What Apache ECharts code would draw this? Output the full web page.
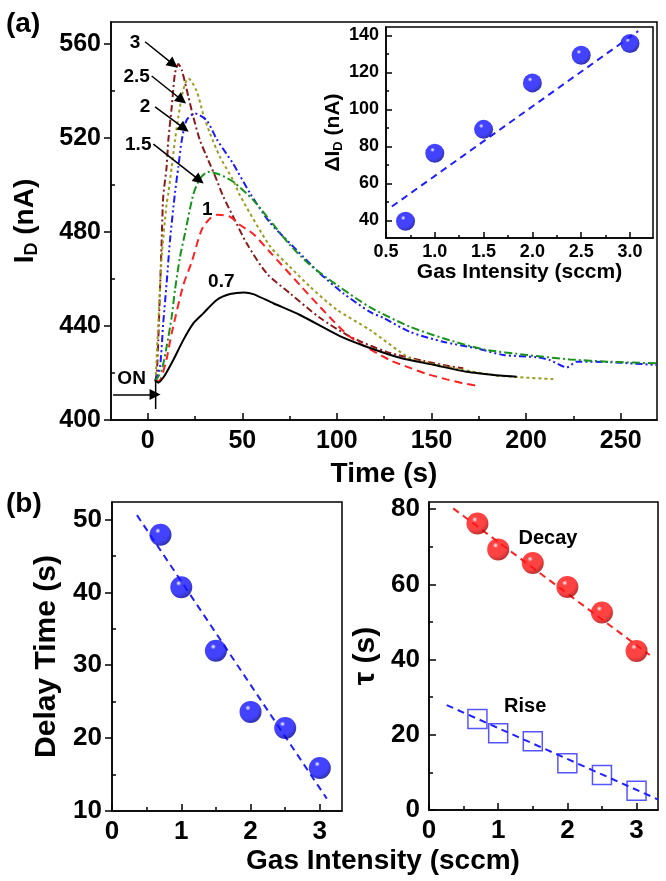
<!DOCTYPE html>
<html><head><meta charset="utf-8">
<script src="https://cdn.jsdelivr.net/npm/echarts@6/dist/echarts.min.js"></script>
<style>html,body{margin:0;padding:0;background:#fff}#c{width:666px;height:881px}</style>
</head><body><div id="c"></div>
<script>
// ---------- Panel (a): transient curves ----------
const t07 = [4, 5.6, 9.1, 13.5, 18.8, 24.1, 29.4, 36.5, 43.5, 51, 55.8, 66.4, 80.5, 101.6, 115.7, 133.3, 151, 168.6, 186.2, 195];
const i07 = [416.8, 415.9, 419.1, 425.5, 434.0, 441.1, 445.4, 451.1, 453.6, 454.3, 453.6, 449.7, 444.7, 435.7, 431.2, 426.5, 423.5, 420.5, 418.9, 418.4];
const t1 = [4, 6.5, 8, 10, 12.7, 18.8, 23.3, 28.5, 32.9, 37, 43.5, 48.8, 55.8, 64.6, 80.5, 91, 106.9, 128, 138.6, 147.5, 158, 166.8, 174.7];
const i1 = [416.5, 417, 420, 426, 437, 457.4, 467.4, 480.9, 485.8, 487.4, 486.5, 483, 479.2, 471.5, 457.4, 448.2, 435.4, 425.5, 422.2, 419.6, 417.3, 415.6, 414.5];
const t15 = [4, 7.4, 10, 12.7, 14.4, 17.1, 19.7, 24.1, 27.7, 32, 38, 45.2, 55.8, 64.6, 75.2, 85.8, 99.9, 117.5, 138.6, 156.2, 177.4, 200.3, 223.2, 244.4, 270];
const i15 = [416.5, 421.3, 431.2, 444, 455.3, 469.5, 479.4, 496, 502.8, 505.6, 504.5, 501.4, 493.6, 485, 474.5, 466, 457.5, 448, 439.7, 434.8, 430.1, 427.7, 425.8, 424.8, 424.1];
const t2 = [4, 6.5, 8.2, 10, 11.8, 14.4, 16.2, 18, 20.6, 25, 31.2, 36.5, 45.2, 54.1, 64.6, 73.5, 82.2, 91, 103.4, 117.5, 124.5, 138.6, 156.2, 173.9, 188, 205.6, 212.6, 221.5, 226.7, 244.4, 269];
const i2 = [416.5, 422.7, 441.1, 458.2, 476.6, 496.5, 507.8, 519, 527.7, 530.5, 527.5, 519.5, 509, 496.5, 484, 476.6, 469.5, 462.4, 453.9, 446, 443.5, 437.5, 433.3, 430.5, 427.7, 426.7, 425.5, 422.4, 424.8, 424.6, 423.4];
const t25 = [4, 4.4, 5.6, 7.4, 10, 10.9, 12.7, 14.4, 16.2, 18, 19.7, 21.5, 25.9, 29.4, 32.9, 38.2, 45.2, 48.8, 64.6, 75.2, 85.8, 99.9, 117.5, 138.6, 149.2, 165, 182.7, 196.8, 214.4];
const i25 = [416.5, 421, 441.1, 469.5, 492, 496.5, 507.8, 519, 529, 537.6, 543, 545.4, 540, 530, 522, 512, 502, 495.5, 474, 465.2, 456.7, 447, 438.3, 426.3, 424.1, 421.6, 419.1, 418.2, 417.4];
const t3 = [4, 4.8, 5.6, 6.5, 7.4, 8.2, 10, 10.9, 12.7, 14.4, 16.2, 18, 21.5, 24.1, 27.6, 32, 36.5, 40, 45.2, 52.3, 62.9, 75.2, 91, 107, 126.3, 145.7, 156.2, 166.8];
const i3 = [416.5, 420, 434, 455.3, 476.6, 495, 507.8, 519.1, 533.3, 547.5, 551.5, 549, 537.6, 529, 519.1, 510.6, 502.1, 495, 486.5, 475.2, 462.4, 453.9, 443.5, 435.5, 429, 425.2, 423.4, 422];

const curveLabels = ['3', '2.5', '2', '1.5', '1', '0.7'];
const curveLabelT = [-6.7, -5.8, -1.4, -5, 31.5, 38.9];
const curveLabelI = [560.4, 546, 533.3, 517.3, 489.5, 458.8];
const arrowFromT = [-1.4, 2.1, 3.9, 3];
const arrowFromI = [561, 546.4, 533.3, 517.4];
const arrowToT = [13.5, 18, 19.3, 27.3];
const arrowToI = [551.4, 536.2, 524.1, 502.1];
const onText = ['ON', -8.5, 417.6];
const onArrow = [[-18.3, 410.9], [3.9, 410.9]];
const onBar = [[4.2, 416.3], [4.2, 404.7]];

const mainXTicks = [0, 50, 100, 150, 200, 250];
const mainXMinor = [25, 75, 125, 175, 225];
const mainYTicks = [400, 440, 480, 520, 560];
const mainYMinor = [420, 460, 500, 540];

// ---------- Inset ----------
const insetGas = [0.7, 1.0, 1.5, 2.0, 2.5, 3.0];
const insetDeltaI = [39.5, 76.3, 89.2, 114.3, 129.2, 135.6];
const insetFitX = [0.56, 3.085];
const insetFitY = [47.5, 142.3];
const insetXTicks = [0.5, 1.0, 1.5, 2.0, 2.5, 3.0];
const insetXMinor = [0.75, 1.25, 1.75, 2.25, 2.75];
const insetYTicks = [40, 60, 80, 100, 120, 140];
const insetYMinor = [50, 70, 90, 110, 130];

// ---------- Panel (b) ----------
const gasB = [0.7, 1.0, 1.5, 2.0, 2.5, 3.0];
const delayTime = [47.9, 40.7, 32.0, 23.6, 21.4, 15.9];
const delayFitX = [0.36, 3.10];
const delayFitY = [50.6, 11.7];
const decayTau = [76.2, 69.3, 65.7, 59.3, 52.5, 42.3];
const decayFitX = [0.35, 3.19];
const decayFitY = [80.2, 41.2];
const riseTau = [24.2, 20.4, 18.3, 12.4, 9.3, 5.1];
const riseFitX = [0.256, 3.31];
const riseFitY = [27.9, 2.8];
const bXTicks = [0, 1, 2, 3];
const bXMinor = [0.5, 1.5, 2.5];
const delayYTicks = [10, 20, 30, 40, 50];
const delayYMinor = [15, 25, 35, 45];
const tauYTicks = [0, 20, 40, 60, 80];
const tauYMinor = [10, 30, 50, 70];
const decayLabel = ['Decay', 1.72, 72.3];
const riseLabel = ['Rise', 1.39, 27.6];

// ---------- helpers ----------
const FF = '"Liberation Sans", Arial, sans-serif';
const zip = (a, b) => a.map((v, k) => [v, b[k]]);

function axisPair(gridIndex, position, min, max, majors, minors, o) {
  const major = {
    type: 'value', gridIndex, position, min, max,
    axisLine: { show: true, onZero: false, lineStyle: { color: '#000', width: 1.5 } },
    axisTick: { show: true, inside: o.majorInside, length: o.majorLen || 7, customValues: majors, lineStyle: { color: '#000', width: 1.5 } },
    axisLabel: { show: true, customValues: majors, margin: o.margin, fontSize: o.fontSize, fontWeight: 'bold', color: '#000', fontFamily: FF, formatter: o.formatter },
    splitLine: { show: false },
    name: o.name || '', nameLocation: 'middle', nameGap: o.nameGap || 30, nameRotate: o.nameRotate,
    nameTextStyle: o.nameTextStyle || {}
  };
  const minor = {
    type: 'value', gridIndex, position, min, max,
    axisLine: { show: false, onZero: false },
    axisTick: { show: true, inside: o.minorInside, length: o.minorLen || 4, customValues: minors, lineStyle: { color: '#000', width: 1.5 } },
    axisLabel: { show: false },
    splitLine: { show: false }
  };
  return [major, minor];
}

function sphere(base, dark) {
  return { type: 'radial', x: 0.38, y: 0.32, r: 0.68, colorStops: [
    { offset: 0, color: '#ffffff' }, { offset: 0.18, color: base }, { offset: 0.7, color: base }, { offset: 1, color: dark }] };
}

const bigName = (fs) => ({ fontSize: fs, fontWeight: 'bold', color: '#000', fontFamily: FF });

const xAxes = [
  ...axisPair(0, 'bottom', -19.4, 269.2, mainXTicks, mainXMinor, { majorInside: true, minorInside: true, margin: 9, fontSize: 25, name: 'Time (s)', nameGap: 40, nameTextStyle: bigName(28) }),
  ...axisPair(1, 'bottom', 0.5, 3.236, insetXTicks, insetXMinor, { majorInside: true, minorInside: true, majorLen: 6, minorLen: 3, margin: 5, fontSize: 18, formatter: v => Number(v).toFixed(1), name: 'Gas Intensity (sccm)', nameGap: 24, nameTextStyle: bigName(21) }),
  ...axisPair(2, 'bottom', 0, 3.32, bXTicks, bXMinor, { majorInside: true, minorInside: true, margin: 8, fontSize: 26 }),
  ...axisPair(3, 'bottom', 0, 3.31, bXTicks, bXMinor, { majorInside: true, minorInside: true, margin: 8, fontSize: 26 })
];
const yAxes = [
  ...axisPair(0, 'left', 400, 569.4, mainYTicks, mainYMinor, { majorInside: false, minorInside: true, margin: 10, fontSize: 25, nameRotate: 90, nameGap: 70,
    name: '{m|I}{s|D}{m| (nA)}',
    nameTextStyle: { rich: { m: { fontSize: 28, fontWeight: 'bold', fontFamily: FF, color: '#000', lineHeight: 32 }, s: { fontSize: 18, fontWeight: 'bold', fontFamily: FF, color: '#000', lineHeight: 10, verticalAlign: 'bottom' } } } }),
  ...axisPair(1, 'left', 30.5, 144.5, insetYTicks, insetYMinor, { majorInside: true, minorInside: true, majorLen: 6, minorLen: 3, margin: 7, fontSize: 18, nameRotate: 90, nameGap: 36,
    name: '{m|ΔI}{s|D}{m| (nA)}',
    nameTextStyle: { rich: { m: { fontSize: 21, fontWeight: 'bold', fontFamily: FF, color: '#000', lineHeight: 24 }, s: { fontSize: 13, fontWeight: 'bold', fontFamily: FF, color: '#000', lineHeight: 8, verticalAlign: 'bottom' } } } }),
  ...axisPair(2, 'left', 10, 52.4, delayYTicks, delayYMinor, { majorInside: false, minorInside: true, margin: 10, fontSize: 26, nameRotate: 90, nameGap: 50, name: 'Delay Time (s)', nameTextStyle: bigName(30) }),
  ...axisPair(3, 'left', 0, 81.9, tauYTicks, tauYMinor, { majorInside: true, minorInside: true, margin: 9, fontSize: 26, nameRotate: 90, nameGap: 48, name: 'τ (s)', nameTextStyle: bigName(30) })
];

function curve(name, t, I, color, dash, width) {
  return { type: 'line', name, xAxisIndex: 0, yAxisIndex: 0, data: zip(t, I), showSymbol: false, symbol: 'none', smooth: 0.25,
    lineStyle: { color, width: width || 2, type: dash }, z: 3, silent: true };
}

const arrowData = arrowFromT.map((v, k) => [{ coord: [v, arrowFromI[k]] }, { coord: [arrowToT[k], arrowToI[k]] }]);
arrowData.push([{ coord: onArrow[0] }, { coord: onArrow[1] }]);

const labelData = curveLabels.map((s, k) => ({ name: s, coord: [curveLabelT[k], curveLabelI[k]] }));
labelData.push({ name: onText[0], coord: [onText[1], onText[2]] });

const blackSeries = curve('0.7 sccm', t07, i07, '#000000', 'solid', 2);
blackSeries.markLine = {
  silent: true, symbol: ['none', 'triangle'], symbolSize: 11, precision: 4,
  label: { show: false }, lineStyle: { color: '#000', width: 1.5, type: 'solid' },
  itemStyle: { color: '#000' },
  data: arrowData
};
blackSeries.markPoint = {
  silent: true, symbol: 'circle', symbolSize: 1, itemStyle: { color: 'rgba(0,0,0,0)' },
  label: { show: true, position: 'inside', formatter: p => p.name, fontSize: 19, fontWeight: 'bold', color: '#000', fontFamily: FF },
  data: labelData
};
const barSeries = { type: 'line', xAxisIndex: 0, yAxisIndex: 0, data: zip([onBar[0][0], onBar[1][0]], [onBar[0][1], onBar[1][1]]), showSymbol: false, symbol: 'none', lineStyle: { color: '#000', width: 1.5 }, silent: true };

function fitLine(xi, yi, xs, ys, color) {
  return { type: 'line', xAxisIndex: xi, yAxisIndex: yi, data: zip(xs, ys), showSymbol: false, symbol: 'none', lineStyle: { color, width: 2, type: [7, 5] }, z: 4, silent: true };
}
function balls(xi, yi, xs, ys, fill, size) {
  return { type: 'scatter', xAxisIndex: xi, yAxisIndex: yi, data: zip(xs, ys), symbol: 'circle', symbolSize: size, itemStyle: { color: fill }, z: 5, silent: true };
}

const option = {
  animation: false,
  backgroundColor: '#fff',
  grid: [
    { left: 111, top: 22, width: 546, height: 398, show: true, borderColor: '#000', borderWidth: 1.5 },
    { left: 386, top: 27, width: 267, height: 211, show: true, borderColor: '#000', borderWidth: 1.5 },
    { left: 112, top: 502, width: 230, height: 309, show: true, borderColor: '#000', borderWidth: 1.5 },
    { left: 429, top: 502, width: 229, height: 308, show: true, borderColor: '#000', borderWidth: 1.5 }
  ],
  xAxis: xAxes,
  yAxis: yAxes,
  graphic: [
    { type: 'text', left: 6, top: 10, style: { text: '(a)', font: 'bold 28px ' + FF, fill: '#000' } },
    { type: 'text', left: 6, top: 490, style: { text: '(b)', font: 'bold 28px ' + FF, fill: '#000' } },
    { type: 'text', x: 383, y: 861, style: { text: 'Gas Intensity (sccm)', font: 'bold 28px ' + FF, fill: '#000', textAlign: 'center', textVerticalAlign: 'middle' } }
  ],
  series: [
    curve('3 sccm', t3, i3, '#8b1a1a', [7, 3, 2, 3], 2),
    curve('2.5 sccm', t25, i25, '#9c9c1c', [3, 3], 2),
    curve('2 sccm', t2, i2, '#1a1aff', [7, 3, 2, 3, 2, 3], 2),
    curve('1.5 sccm', t15, i15, '#18931a', [8, 3, 2, 3], 2),
    curve('1 sccm', t1, i1, '#ff2020', [8, 5], 2),
    blackSeries,
    barSeries,
    fitLine(2, 2, insetFitX, insetFitY, '#2020ff'),
    balls(2, 2, insetGas, insetDeltaI, sphere('#1414ff', '#0000a0'), 19),
    fitLine(4, 4, delayFitX, delayFitY, '#2020ff'),
    balls(4, 4, gasB, delayTime, sphere('#1414ff', '#0000a0'), 22),
    Object.assign(fitLine(6, 6, decayFitX, decayFitY, '#ff2020'), {
      markPoint: { silent: true, symbol: 'circle', symbolSize: 1, itemStyle: { color: 'rgba(0,0,0,0)' },
        label: { show: true, position: 'inside', formatter: p => p.name, fontSize: 20, fontWeight: 'bold', color: '#000', fontFamily: FF },
        data: [{ name: decayLabel[0], coord: [decayLabel[1], decayLabel[2]] }, { name: riseLabel[0], coord: [riseLabel[1], riseLabel[2]] }] } }),
    balls(6, 6, gasB, decayTau, sphere('#ff1414', '#b00000'), 22),
    fitLine(6, 6, riseFitX, riseFitY, '#2020ff'),
    { type: 'scatter', xAxisIndex: 6, yAxisIndex: 6, data: zip(gasB, riseTau), symbol: 'rect', symbolSize: 19,
      itemStyle: { color: 'rgba(255,255,255,0)', borderColor: '#2a2aff', borderWidth: 1.5 }, z: 5, silent: true }
  ]
};
const chart = echarts.init(document.getElementById('c'), null, { renderer: 'canvas' });
chart.setOption(option);
</script>
</body></html>
